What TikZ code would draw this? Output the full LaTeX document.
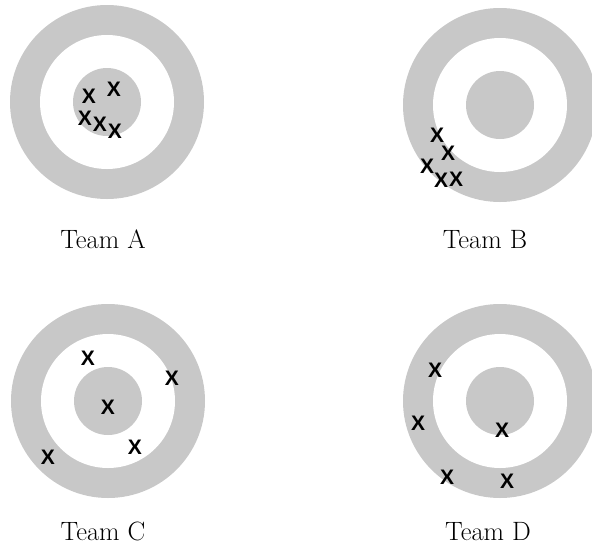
\documentclass[tikz,border=0pt]{standalone}
\usepackage{fontspec}
\newfontfamily\markfont{Liberation Sans}
\definecolor{ringgray}{RGB}{200,200,200}
\tikzset{
  ring/.style={fill=ringgray, draw=none},
  hole/.style={fill=white, draw=none},
  hitmark/.style={inner sep=0pt, font=\markfont\bfseries\fontsize{21}{21}\selectfont},
  teamlabel/.style={inner sep=0pt, anchor=base, font=\fontsize{26.5}{26.5}\selectfont}
}
\newcommand{\drawtarget}[2]{%
  \fill[ring] (#1,#2) circle (97);
  \fill[hole] (#1,#2) circle (67);
  \fill[ring] (#1,#2) circle (34);
}
\begin{document}
\begin{tikzpicture}[x=1pt,y=-1pt]
\useasboundingbox (0,0) rectangle (592,550);
% targets
\drawtarget{107}{102}
\drawtarget{500}{105}
\drawtarget{108}{401}
\drawtarget{500}{401}
% Team A hits
\node[hitmark] (a1) at (89,96) {X};
\node[hitmark] (a2) at (114,89) {X};
\node[hitmark] (a3) at (85,118) {X};
\node[hitmark] (a4) at (100,124) {X};
\node[hitmark] (a5) at (115,131) {X};
% Team B hits
\node[hitmark] (b1) at (437,135) {X};
\node[hitmark] (b2) at (448,153) {X};
\node[hitmark] (b3) at (427,166) {X};
\node[hitmark] (b4) at (441,180) {X};
\node[hitmark] (b5) at (456,179) {X};
% Team C hits
\node[hitmark] (c1) at (88,358) {X};
\node[hitmark] (c2) at (172,378) {X};
\node[hitmark] (c3) at (108,407) {X};
\node[hitmark] (c4) at (135,447) {X};
\node[hitmark] (c5) at (48,457) {X};
% Team D hits
\node[hitmark] (d1) at (435,370) {X};
\node[hitmark] (d2) at (418,423) {X};
\node[hitmark] (d3) at (502,430) {X};
\node[hitmark] (d4) at (447,477) {X};
\node[hitmark] (d5) at (507,481) {X};
% labels
\node[teamlabel] (la) at (103,248) {Team A};
\node[teamlabel] (lb) at (485,248) {Team B};
\node[teamlabel] (lc) at (103,540) {Team C};
\node[teamlabel] (ld) at (488,540) {Team D};
\end{tikzpicture}
\end{document}
